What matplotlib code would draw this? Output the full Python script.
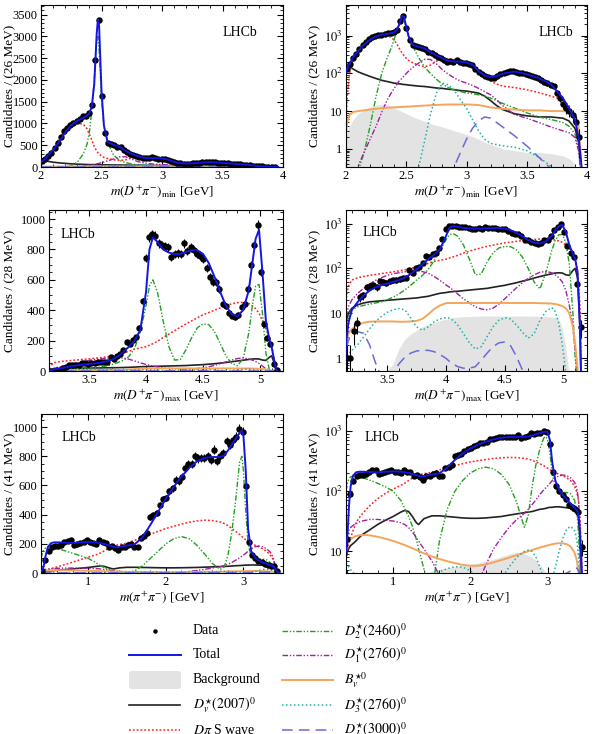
import numpy as np
import matplotlib.pyplot as plt
from matplotlib.patches import FancyBboxPatch
from matplotlib.ticker import MultipleLocator, LogLocator, FuncFormatter, NullFormatter

plt.rcParams['font.family'] = ['Liberation Serif', 'DejaVu Serif']
plt.rcParams['mathtext.fontset'] = 'stix'

# ---------------- m(D+ pi-)_min, 26 MeV bins ----------------
countsA = [130, 180, 250, 330, 440, 560, 700, 820, 900, 960,
           1020, 1060, 1100, 1180, 1160, 1230, 1420, 2450, 3370, 1620,
           770, 560, 520, 500, 470, 450, 380, 340, 310, 280,
           250, 220, 200, 210, 200, 220, 200, 190, 190, 180,
           170, 130, 110, 95, 85, 80, 75, 75, 85, 95,
           100, 110, 115, 115, 110, 105, 100, 95, 90, 85,
           80, 75, 65, 60, 55, 50, 45, 30, 22, 15,
           12, 10, 8, 5, 2]
fitA_m = [2.00, 2.01, 2.03, 2.06, 2.10, 2.15, 2.20, 2.25, 2.30, 2.35,
          2.38, 2.40, 2.42, 2.44, 2.46, 2.47, 2.48, 2.50, 2.52, 2.55,
          2.60, 2.65, 2.70, 2.75, 2.80, 2.85, 2.90, 2.95, 3.00, 3.05,
          3.10, 3.15, 3.20, 3.25, 3.30, 3.40, 3.50, 3.60, 3.70, 3.80,
          3.85, 3.90, 3.93, 3.95, 3.96]
totA = [110, 135, 180, 270, 390, 580, 790, 960, 1060, 1130,
        1180, 1230, 1400, 1900, 3050, 3380, 3250, 1750, 950, 580,
        510, 460, 370, 300, 250, 215, 205, 205, 195, 170,
        115, 88, 80, 85, 98, 112, 95, 75, 52, 22,
        12, 6, 2, 0.5, 0.2]
bkgA = [2, 3, 4, 6, 8.5, 11, 13, 14.5, 15, 14.5,
        13.5, 12.5, 11.5, 10.5, 10, 9.5, 9.2, 8.5, 8, 7.2,
        6.2, 5.4, 4.7, 4.2, 3.8, 3.4, 3.0, 2.7, 2.4, 2.1,
        1.8, 1.5, 1.3, 1.15, 1.0, 0.9, 0.8, 0.8, 0.75, 0.65,
        0.55, 0.4, 0.2, 0.05, 0.01]
dstvA = [120, 165, 150, 130, 110, 95, 83, 73, 65, 60,
         57, 55, 54, 53, 52, 51, 51, 50, 49, 48,
         46, 45, 43, 41, 40, 38, 37, 35, 34, 32,
         30, 25, 19, 14, 11, 8.5, 7.5, 7, 7, 6.5,
         5.5, 3.5, 1.5, 0.3, 0.1]
swaveA = [5, 25, 100, 230, 420, 650, 850, 960, 1010, 980,
          880, 750, 620, 470, 370, 330, 300, 250, 220, 195,
          165, 150, 165, 210, 250, 245, 220, 200, 180, 145,
          108, 80, 63, 52, 46, 42, 37, 31, 25, 20,
          14, 6, 1.8, 0.3, 0.05]
d2A = [0.05, 0.06, 0.08, 0.12, 0.25, 0.8, 4, 25, 110, 300,
       520, 800, 1300, 2000, 2900, 3000, 2700, 1600, 950, 560,
       270, 150, 100, 70, 52, 42, 36, 33, 30, 29,
       27, 25, 22, 19, 16, 12, 9, 7, 6, 5,
       4, 2.5, 1, 0.3, 0.1]
d1A = [0.05, 0.06, 0.08, 0.12, 0.35, 0.8, 1.8, 4, 10, 22,
       32, 40, 50, 62, 72, 78, 85, 100, 115, 140,
       185, 235, 235, 180, 125, 95, 75, 63, 55, 48,
       40, 33, 27, 20, 14, 8, 6.5, 5, 3.8, 3,
       2.7, 2, 0.9, 0.2, 0.05]
bvA = [2.5, 5, 8, 9.5, 10, 10.5, 11, 11.5, 12, 12.3,
       12.5, 12.6, 12.7, 12.8, 12.9, 13, 13, 13.1, 13.2, 13.4,
       13.7, 14, 14.3, 14.6, 14.8, 15, 15, 15, 15, 14.8,
       14.5, 13.5, 12.5, 12, 11.5, 11, 10.5, 10.5, 10, 10,
       9.5, 8, 4, 0.5, 0.1]
d3A = [0.01, 0.01, 0.01, 0.01, 0.01, 0.01, 0.01, 0.01, 0.01, 0.01,
       0.01, 0.01, 0.01, 0.01, 0.02, 0.02, 0.03, 0.04, 0.06, 0.1,
       0.3, 1.5, 8, 30, 55, 50, 35, 20, 12, 6,
       3, 1.8, 1.4, 1.3, 1.2, 1.1, 0.9, 0.6, 0.35, 0.2,
       0.15, 0.1, 0.05, 0.02, 0.01]
d3000A = [0.01, 0.01, 0.01, 0.01, 0.01, 0.01, 0.01, 0.01, 0.01, 0.01,
          0.01, 0.01, 0.01, 0.01, 0.01, 0.01, 0.01, 0.01, 0.01, 0.01,
          0.01, 0.01, 0.01, 0.02, 0.05, 0.12, 0.35, 0.8, 1.8, 3.5,
          5.5, 7, 6.5, 5, 3.8, 2.2, 1.2, 0.6, 0.3, 0.1,
          0.05, 0.03, 0.02, 0.01, 0.01]

# ---------------- m(D+ pi-)_max, 28 MeV bins ----------------
countsB = [1, 1, 4, 6, 23, 25, 38, 40, 42, 38,
           52, 50, 48, 52, 55, 56, 57, 60, 62, 90,
           80, 100, 110, 135, 190, 180, 205, 225, 285, 460,
           745, 880, 900, 890, 840, 830, 820, 815, 750, 770,
           775, 770, 840, 790, 815, 795, 770, 760, 740, 680,
           620, 585, 585, 540, 440, 430, 380, 365, 355, 370,
           420, 440, 540, 700, 830, 960, 650, 310, 220, 180,
           45, 5]
fitB_m = [3.13, 3.14, 3.15, 3.17, 3.20, 3.25, 3.30, 3.35, 3.40, 3.45,
          3.50, 3.55, 3.60, 3.65, 3.70, 3.75, 3.80, 3.85, 3.90, 3.95,
          4.00, 4.03, 4.06, 4.10, 4.15, 4.20, 4.25, 4.30, 4.35, 4.40,
          4.45, 4.50, 4.55, 4.60, 4.65, 4.70, 4.75, 4.80, 4.85, 4.90,
          4.93, 4.96, 4.99, 5.02, 5.05, 5.08, 5.10, 5.12, 5.14, 5.15]
totB = [0.3, 0.6, 2, 6, 12, 18, 25, 32, 38, 42,
        46, 50, 55, 62, 75, 95, 125, 160, 200, 270,
        520, 800, 880, 850, 800, 780, 770, 770, 785, 795,
        795, 770, 710, 620, 520, 430, 375, 360, 400, 530,
        700, 870, 930, 650, 330, 210, 160, 80, 5, 0.3]
bkgB = [0, 0, 0, 0.01, 0.02, 0.05, 0.1, 0.2, 0.3, 0.4,
        0.5, 0.7, 1.5, 2.5, 3.3, 4, 4.8, 5.5, 6.1, 6.7,
        7.2, 7.5, 7.8, 8, 8.2, 8.3, 8.4, 8.5, 8.5, 8.5,
        8.5, 8.5, 8.5, 8.5, 8.5, 8.5, 8.4, 8.3, 8.2, 8.1,
        8, 7.5, 5, 2, 0.5, 0.1, 0.05, 0.01, 0, 0]
dstvB = [0.3, 2, 6, 10, 13, 15.5, 17, 18, 18.5, 19,
         19.5, 20, 20.5, 21, 21.5, 22, 23, 24, 26, 28,
         29, 30, 30.5, 31, 32, 33, 34, 35, 36, 38,
         40, 42, 45, 48, 52, 56, 61, 66, 71, 76,
         79, 80, 79, 72, 70, 90, 100, 60, 5, 0.3]
swaveB = [0.3, 5, 20, 40, 55, 62, 66, 70, 73, 77,
          80, 84, 88, 93, 100, 108, 118, 130, 143, 152,
          160, 170, 180, 195, 220, 243, 265, 288, 310, 330,
          350, 370, 385, 400, 415, 430, 442, 450, 452, 445,
          430, 410, 380, 330, 280, 220, 170, 90, 15, 1]
d2B = [0.3, 2, 5, 9, 12, 14, 15, 16, 17, 18,
       20, 23, 27, 33, 42, 55, 70, 95, 150, 260,
       430, 560, 600, 520, 330, 160, 72, 75, 140, 220,
       285, 310, 305, 260, 180, 100, 50, 35, 80, 250,
       420, 560, 570, 380, 120, 10, 1, 0.3, 0.1, 0.05]
d1B = [0.5, 3, 8, 14, 20, 28, 36, 45, 54, 62,
       70, 76, 80, 84, 87, 88, 85, 78, 66, 54,
       43, 38, 33, 27, 21, 17, 14, 12.5, 12, 13,
       16, 21, 28, 37, 48, 60, 72, 82, 86, 80,
       72, 62, 50, 32, 15, 5, 1.5, 0.4, 0.1, 0.05]
bvB = [0.2, 0.8, 2, 3.5, 4.5, 5.5, 6.2, 6.5, 6.6, 6.6,
       6.6, 6.6, 6.5, 6.5, 6.6, 6.8, 7.5, 9.5, 12.5, 15,
       16.8, 17, 17, 17, 17, 17, 17, 17, 17, 17,
       17, 17, 17, 17, 17, 17, 17, 16.8, 16.7, 16.5,
       16, 15.5, 14.5, 13, 10, 5, 2, 0.6, 0.1, 0.05]
d3B = [0.5, 0.8, 1.0, 1.2, 1.5, 2.0, 3.0, 4.5, 6.5, 8.5,
       10.5, 12, 12.8, 12, 8, 5, 4.2, 5, 6.5, 7.5,
       8, 7.8, 7, 5.5, 3.5, 2.2, 1.6, 1.8, 3, 5,
       7, 8, 7.5, 5.5, 3.8, 2.8, 3.5, 7, 11, 13.5,
       11, 6, 2, 0.5, 0.1, 0.05, 0.03, 0.02, 0.01, 0.01]
d3000B = [0.3, 0.8, 1.5, 2.5, 3.3, 3.9, 3.6, 2.0, 0.8, 0.4,
          0.3, 0.45, 0.75, 1.05, 1.3, 1.45, 1.5, 1.5, 1.4, 1.2,
          1.0, 0.85, 0.75, 0.65, 0.6, 0.6, 0.65, 0.9, 1.3, 1.8,
          2.2, 2.3, 1.9, 1.1, 0.55, 0.3, 0.15, 0.1, 0.05, 0.03,
          0.02, 0.01, 0.01, 0.01, 0.01, 0.01, 0.01, 0.01, 0.01, 0.01]

# ---------------- m(pi+ pi-), 41 MeV bins ----------------
countsC = [16, 90, 150, 180, 185, 185, 195, 210, 220, 225,
           190, 200, 205, 215, 225, 210, 205, 200, 225, 210,
           205, 180, 185, 170, 155, 175, 180, 195, 200, 175,
           180, 240, 255, 275, 385, 400, 410, 465, 505, 515,
           560, 580, 640, 630, 660, 720, 745, 750, 800, 785,
           790, 790, 800, 775, 845, 770, 800, 820, 905, 880,
           910, 935, 990, 970, 595, 210, 120, 100, 85, 75,
           60, 55, 50, 45, 12]
fitC_m = [0.39, 0.41, 0.43, 0.45, 0.48, 0.52, 0.56, 0.60, 0.70, 0.80,
          0.90, 1.00, 1.10, 1.15, 1.20, 1.25, 1.30, 1.33, 1.36, 1.40,
          1.50, 1.60, 1.70, 1.80, 1.90, 2.00, 2.10, 2.20, 2.30, 2.40,
          2.50, 2.60, 2.70, 2.75, 2.80, 2.85, 2.90, 2.95, 2.98, 3.00,
          3.03, 3.06, 3.10, 3.15, 3.20, 3.25, 3.30, 3.35, 3.38, 3.40,
          3.42, 3.44, 3.46]
totC = [10, 20, 60, 120, 180, 205, 210, 210, 208, 205,
        210, 212, 210, 205, 200, 192, 185, 178, 175, 178,
        188, 198, 245, 330, 420, 510, 590, 660, 720, 765,
        790, 795, 795, 805, 840, 880, 920, 960, 975, 940,
        700, 300, 150, 105, 85, 72, 62, 53, 48, 40,
        20, 6, 1]
bkgC = [0, 0, 0, 0, 0, 0, 0, 0, 0.1, 0.2,
        0.4, 0.6, 1.0, 1.3, 1.6, 2.0, 2.5, 2.9, 3.3, 3.8,
        4.6, 5.0, 5.2, 5.5, 5.7, 6.0, 6.3, 6.8, 7.3, 8.0,
        8.8, 9.5, 9.0, 8.5, 8.0, 7.0, 6.0, 5.0, 4.5, 4.0,
        3.3, 2.5, 1.6, 1.2, 0.9, 0.7, 0.5, 0.3, 0.2, 0.1,
        0.05, 0.02, 0]
dstvC = [8, 10, 11.5, 12.5, 13.5, 15, 17, 19, 23, 28,
         33, 38, 45, 48, 46, 38, 30, 28, 31, 35,
         39, 39, 38, 37, 36, 35.5, 35.5, 36, 37, 38,
         40, 42, 44, 45, 46, 48, 50, 51, 52, 53,
         54, 54, 55, 55, 54, 53, 52, 50, 45, 35,
         15, 3, 0.3]
swaveC = [8, 11, 14, 17, 22, 30, 36, 42, 58, 75,
          92, 108, 125, 135, 150, 165, 180, 185, 190, 195,
          205, 225, 245, 265, 285, 305, 320, 335, 348, 357,
          362, 360, 350, 340, 325, 305, 285, 265, 250, 240,
          228, 215, 202, 190, 180, 165, 148, 120, 95, 70,
          35, 8, 1]
d2C = [100, 140, 160, 172, 178, 178, 174, 168, 152, 135,
       118, 100, 70, 52, 38, 26, 16, 11, 8, 5,
       2, 15, 50, 100, 150, 200, 235, 250, 235, 190,
       130, 65, 25, 40, 120, 280, 500, 760, 800, 700,
       420, 200, 110, 95, 95, 95, 90, 70, 45, 20,
       5, 1, 0.1]
d1C = [15, 20, 23, 25, 27, 29, 31, 32, 34, 34,
       33, 32, 30, 28, 25, 21, 17, 15, 13, 11,
       7, 4, 2, 1, 0.8, 1.5, 3, 6, 11, 17,
       25, 34, 43, 50, 60, 72, 88, 105, 115, 122,
       135, 150, 165, 180, 185, 180, 165, 140, 110, 70,
       25, 3, 0.3]
bvC = [11, 13, 15, 16, 17, 18, 18.5, 18.8, 18.5, 17.5,
       16.3, 15, 13.5, 12.8, 12, 11.3, 10.6, 10.2, 9.8, 9.3,
       8.3, 7.5, 6.9, 6.4, 6.0, 5.8, 5.8, 6.1, 6.6, 7.2,
       7.9, 8.7, 9.6, 10.1, 10.6, 11.1, 11.6, 12.1, 12.4, 12.6,
       12.9, 13.2, 13.5, 13.7, 13.6, 13.2, 12, 9.5, 7, 4.5,
       2, 0.6, 0.1]
d3C = [6.5, 6, 5.5, 5, 4.5, 4, 3.5, 3, 2, 1.2,
       0.8, 0.6, 0.6, 0.7, 0.9, 1.2, 1.6, 1.9, 2.3, 2.8,
       3.8, 4.6, 5.2, 5.6, 5.5, 4.8, 3.8, 2.8, 2.5, 3.5,
       5.5, 8, 10, 10.5, 10, 8, 5.5, 3.5, 2.8, 2.6,
       2.8, 3.5, 5.5, 10, 17, 24, 26, 22, 15, 8,
       3, 0.5, 0.1]
d3000C = [0.2, 0.3, 0.4, 0.5, 0.6, 0.7, 0.8, 0.9, 1.0, 1.1,
          1.2, 1.3, 1.3, 1.3, 1.3, 1.3, 1.3, 1.3, 1.3, 1.3,
          1.2, 1.1, 1.0, 1.0, 1.0, 1.1, 1.2, 1.4, 1.6, 1.8,
          2.0, 2.2, 2.4, 2.5, 2.6, 2.7, 2.8, 2.9, 3.0, 3.0,
          3.1, 3.2, 3.4, 3.7, 4.0, 4.4, 4.8, 5.2, 5.3, 4.8,
          3.0, 1.0, 0.2]

legend_labels = ['Data', 'Total', 'Background', r'$D^{\star}_{v}(2007)^{0}$', r'$D\pi$ S wave',
                 r'$D^{\star}_{2}(2460)^{0}$', r'$D^{\star}_{1}(2760)^{0}$', r'$B^{\star 0}_{v}$',
                 r'$D^{\star}_{3}(2760)^{0}$', r'$D^{\star}_{J}(3000)^{0}$']

c_tot, c_bkg = '#1515e0', '#e3e3e3'
styles = [('#222222', '-', 1.2),                          # D*v(2007)
          ('#ff2020', (0, (1.2, 1.3)), 1.1),              # S wave
          ('#22a022', (0, (4, 1.3, 1, 1.3, 1, 1.3)), 1.0),  # D2*(2460)
          ('#a020a0', (0, (4, 1.3, 1, 1.3, 1, 1.3)), 1.0),  # D1*(2760)
          ('#f5a55a', '-', 1.4),                          # Bv*
          ('#20b0a8', (0, (1, 1.6)), 1.1),                # D3*(2760)
          ('#6a6ad8', (0, (7, 4)), 1.1)]                  # D*(3000)

W, H = 594, 734
fig = plt.figure(figsize=(W / 100, H / 100), dpi=100)


def box(l, t, r, b):
    return [l / W, 1 - b / H, (r - l) / W, (b - t) / H]


def draw(ax, x0, width, counts, fm, tot, bkg, comps, log):
    xc = x0 + width * np.arange(len(counts))
    cnt = np.array(counts, float)
    floor = 1e-3 if log else 0
    ax.fill_between(fm, bkg, floor, color=c_bkg, lw=0, zorder=1)
    for y, (c, ls, lw) in zip(comps, styles):
        ax.plot(fm, y, color=c, ls=ls, lw=lw, zorder=2)
    ax.errorbar(xc, cnt, yerr=np.sqrt(cnt), fmt='o', ms=3.6, color='k',
                elinewidth=0.8, capsize=0, zorder=3)
    ax.plot(fm, tot, color=c_tot, lw=1.4, zorder=4)
    if log:
        ax.set_yscale('log')
        ax.yaxis.set_major_locator(LogLocator(base=10))
        ax.yaxis.set_minor_locator(LogLocator(base=10, subs=np.arange(2, 10)))
        ax.yaxis.set_major_formatter(FuncFormatter(
            lambda v, p: '%d' % v if v < 50 else r'$10^{%d}$' % round(np.log10(v))))
        ax.yaxis.set_minor_formatter(NullFormatter())
    ax.tick_params(which='both', direction='in', top=True, right=True, labelsize=9, pad=2.5)
    ax.tick_params(which='major', length=4.5)
    ax.tick_params(which='minor', length=2.5)


def style(ax, xlab, ylab, lhcb_xy, xl, yl, xmaj, xmin, ymaj=None, ymin=None, ylx=-0.108):
    ax.set_xlim(*xl)
    ax.set_ylim(*yl)
    ax.xaxis.set_major_locator(MultipleLocator(xmaj))
    ax.xaxis.set_minor_locator(MultipleLocator(xmin))
    ax.xaxis.set_major_formatter(FuncFormatter(lambda v, p: '%g' % v))
    if ymaj:
        ax.yaxis.set_major_locator(MultipleLocator(ymaj))
        ax.yaxis.set_minor_locator(MultipleLocator(ymin))
    ax.set_xlabel(xlab, fontsize=9.5)
    ax.set_ylabel(ylab, fontsize=9.5)
    ax.xaxis.set_label_coords(0.5, -0.105)
    ax.yaxis.set_label_coords(ylx, 0.5)
    ax.text(lhcb_xy[0], lhcb_xy[1], 'LHCb', transform=ax.transAxes, fontsize=10,
            ha='center', va='center')


compsA = [dstvA, swaveA, d2A, d1A, bvA, d3A, d3000A]
compsB = [dstvB, swaveB, d2B, d1B, bvB, d3B, d3000B]
compsC = [dstvC, swaveC, d2C, d1C, bvC, d3C, d3000C]

labA = r'$m(D^{+}\pi^{-})_{\rm min}$ [GeV]'
labB = r'$m(D^{+}\pi^{-})_{\rm max}$ [GeV]'
labC = r'$m(\pi^{+}\pi^{-})$ [GeV]'

ax = fig.add_axes(box(41, 5, 283, 167))
draw(ax, 2.008, 0.026, countsA, fitA_m, totA, bkgA, compsA, False)
style(ax, labA, 'Candidates / (26 MeV)', (0.82, 0.83), (2, 4), (0, 3720), 0.5, 0.1, 500, 100)

ax = fig.add_axes(box(346, 5, 587, 167))
draw(ax, 2.008, 0.026, countsA, fitA_m, totA, bkgA, compsA, True)
style(ax, labA, 'Candidates / (26 MeV)', (0.87, 0.83), (2, 4), (0.33, 6500), 0.5, 0.1)

ax = fig.add_axes(box(49, 210, 283, 371))
draw(ax, 3.158, 0.028, countsB, fitB_m, totB, bkgB, compsB, False)
style(ax, labB, 'Candidates / (28 MeV)', (0.125, 0.85), (3.15, 5.2), (0, 1060), 0.5, 0.1, 200, 50,
      ylx=-0.145)

ax = fig.add_axes(box(346, 210, 587, 371))
draw(ax, 3.158, 0.028, countsB, fitB_m, totB, bkgB, compsB, True)
style(ax, labB, 'Candidates / (28 MeV)', (0.14, 0.86), (3.15, 5.2), (0.52, 2000), 0.5, 0.1)

ax = fig.add_axes(box(41, 414, 283, 573))
draw(ax, 0.405, 0.041, countsC, fitC_m, totC, bkgC, compsC, False)
style(ax, labC, 'Candidates / (41 MeV)', (0.157, 0.85), (0.39, 3.51), (0, 1090), 1, 0.2, 200, 50)

ax = fig.add_axes(box(346, 414, 587, 573))
draw(ax, 0.405, 0.041, countsC, fitC_m, totC, bkgC, compsC, True)
style(ax, labC, 'Candidates / (41 MeV)', (0.15, 0.85), (0.39, 3.51), (4.4, 1900), 1, 0.2)

# legend, laid out in figure pixels
lax = fig.add_axes([0, 0, 1, 1])
lax.set_xlim(0, W)
lax.set_ylim(H, 0)
lax.axis('off')
rows = [631, 655, 680, 705, 730]
lax.plot([155], [rows[0]], 'o', color='k', ms=2.2)
lax.plot([129, 181], [rows[1]] * 2, color=c_tot, lw=1.4)
lax.add_patch(FancyBboxPatch((129, 671), 52, 18, boxstyle='round,pad=0,rounding_size=3',
                             fc=c_bkg, ec='none'))
for k, (c, ls, lw) in enumerate(styles):
    col, row = divmod(k + 3, 5)
    x0 = 129 if col == 0 else 282
    lax.plot([x0, x0 + 51], [rows[row]] * 2, color=c, ls=ls, lw=lw)
for k, lab in enumerate(legend_labels):
    col, row = divmod(k, 5)
    lax.text(193 if col == 0 else 344, rows[row], lab, fontsize=10, va='center')

fig.savefig('out.png', dpi=100)
